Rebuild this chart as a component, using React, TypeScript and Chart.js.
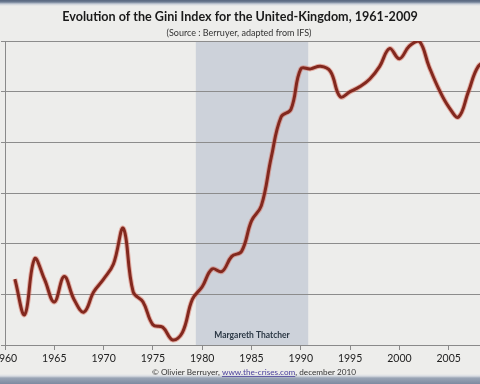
import { useEffect, useRef } from "react";
import { Chart, registerables } from "chart.js";

Chart.register(...registerables);

const TITLE = "Evolution of the Gini Index for the United-Kingdom, 1961-2009";
const SUBTITLE = "(Source : Berruyer, adapted from IFS)";
const FOOTER_PARTS = ["© Olivier Berruyer, ", "www.the-crises.com", ", december 2010"];
const BAND_LABEL = "Margareth Thatcher";
const THATCHER_START = 1979.35;
const THATCHER_END = 1990.75;

const YEARS = [
  1961, 1962, 1963, 1964, 1965, 1966, 1967, 1968, 1969, 1970,
  1971, 1972, 1973, 1974, 1975, 1976, 1977, 1978, 1979, 1980,
  1981, 1982, 1983, 1984, 1985, 1986, 1987, 1988, 1989, 1990,
  1991, 1992, 1993, 1994, 1995, 1996, 1997, 1998, 1999, 2000,
  2001, 2002, 2003, 2004, 2005, 2006, 2007, 2008, 2009,
];
const GINI = [
  0.266, 0.252, 0.274, 0.266, 0.257, 0.267, 0.258, 0.253, 0.261, 0.266,
  0.272, 0.286, 0.261, 0.257, 0.248, 0.247, 0.242, 0.245, 0.258, 0.263,
  0.270, 0.269, 0.275, 0.277, 0.289, 0.295, 0.314, 0.330, 0.333, 0.349,
  0.349, 0.350, 0.348, 0.338, 0.340, 0.342, 0.345, 0.350, 0.357, 0.353,
  0.358, 0.360, 0.350, 0.341, 0.334, 0.330, 0.340, 0.350, 0.352,
];
const X_MIN = 1960;
const X_MAX = 2010;
const X_STEP = 5;
const Y_MIN = 0.24;
const Y_MAX = 0.36;
const Y_STEP = 0.02;

const FONT = "Lato, 'Open Sans', sans-serif";
const OFFSET = 40; // canvas is shifted left; y labels fall outside the window
const CANVAS_W = 560;
const CANVAS_H = 384;

const decor = {
  id: "decor",
  beforeDraw(chart: any) {
    const { ctx, chartArea, scales } = chart;
    const x = scales.x;
    const x0 = x.getPixelForValue(THATCHER_START);
    const x1 = x.getPixelForValue(THATCHER_END);
    ctx.save();
    ctx.fillStyle = "#cdd2da";
    ctx.fillRect(x0, chartArea.top, x1 - x0, chartArea.bottom - chartArea.top);
    ctx.restore();
  },
  afterDraw(chart: any) {
    const { ctx, scales } = chart;
    const x = scales.x;
    ctx.save();
    ctx.textAlign = "center";
    ctx.textBaseline = "middle";
    // band label
    ctx.fillStyle = "#2b3845";
    ctx.font = `bold 8.5px ${FONT}`;
    const mid = (x.getPixelForValue(THATCHER_START) + x.getPixelForValue(THATCHER_END)) / 2;
    ctx.fillText(BAND_LABEL, mid, 335);
    // title
    ctx.fillStyle = "#1a1a1a";
    ctx.font = `bold 12.6px ${FONT}`;
    ctx.fillText(TITLE, 240 + OFFSET, 17);
    ctx.font = `9px ${FONT}`;
    ctx.fillStyle = "#333333";
    ctx.fillText(SUBTITLE, 239 + OFFSET, 33);
    // footer
    ctx.font = `8.2px ${FONT}`;
    const widths = FOOTER_PARTS.map((p) => ctx.measureText(p).width);
    const total = widths.reduce((a, b) => a + b, 0);
    let cx = 254 + OFFSET - total / 2;
    ctx.textAlign = "left";
    FOOTER_PARTS.forEach((p, i) => {
      ctx.fillStyle = i === 1 ? "#4a3f9a" : "#333333";
      ctx.fillText(p, cx, 372);
      if (i === 1) {
        ctx.fillRect(cx, 376, widths[i], 0.8);
      }
      cx += widths[i];
    });
    ctx.restore();
  },
};

export default function App() {
  const ref = useRef<HTMLCanvasElement>(null);
  useEffect(() => {
    const points = YEARS.map((yr, i) => ({ x: yr, y: GINI[i] }));
    const chart = new Chart(ref.current!, {
      type: "line",
      data: {
        datasets: [
          {
            data: points,
            borderColor: "#82281e",
            borderWidth: 3,
            pointRadius: 0,
            tension: 0.4,
            order: 1,
          },
          {
            data: points,
            borderColor: "rgba(215,95,75,0.45)",
            borderWidth: 5,
            pointRadius: 0,
            tension: 0.4,
            order: 2,
          },
        ],
      },
      options: {
        responsive: false,
        animation: false,
        layout: { padding: { top: 41, left: 0, right: 22, bottom: 0 } },
        plugins: {
          legend: { display: false },
          tooltip: { enabled: false },
          title: { display: false },
        },
        scales: {
          x: {
            type: "linear",
            min: X_MIN,
            max: X_MAX,
            afterFit: (s: any) => {
              s.height = 39;
            },
            ticks: {
              stepSize: X_STEP,
              color: "#222222",
              font: { family: FONT, size: 10.5 },
              padding: 2,
              maxRotation: 0,
              callback: (v: any) => String(v),
            },
            grid: {
              drawOnChartArea: false,
              drawTicks: true,
              tickLength: 5,
              color: "#8a8a8a",
            },
            border: { color: "#8a8a8a", width: 1 },
          },
          y: {
            min: Y_MIN,
            max: Y_MAX,
            afterFit: (s: any) => {
              s.width = 45;
            },
            ticks: {
              stepSize: Y_STEP,
              color: "#222222",
              font: { family: FONT, size: 10 },
              callback: (v: any) => Number(v).toFixed(2),
            },
            grid: {
              color: "#8c8c8c",
              lineWidth: 1,
              tickLength: 4,
            },
            border: { color: "#8a8a8a", width: 1 },
          },
        },
      },
      plugins: [decor],
    });
    return () => chart.destroy();
  }, []);
  return (
    <div
      style={{
        position: "fixed",
        left: 0,
        top: 0,
        width: 480,
        height: 384,
        overflow: "hidden",
        background:
          "linear-gradient(to bottom, #56657d 0px, #6e7d93 2px, #c9cfd8 4px, #ededeb 6px, #ededeb 374px, #d9dde3 376px, #9aa5b5 378px, #7d8aa0 384px)",
      }}
    >
      <canvas
        ref={ref}
        width={CANVAS_W}
        height={CANVAS_H}
        style={{ position: "absolute", left: -OFFSET, top: 0, width: CANVAS_W, height: CANVAS_H }}
      />
    </div>
  );
}
